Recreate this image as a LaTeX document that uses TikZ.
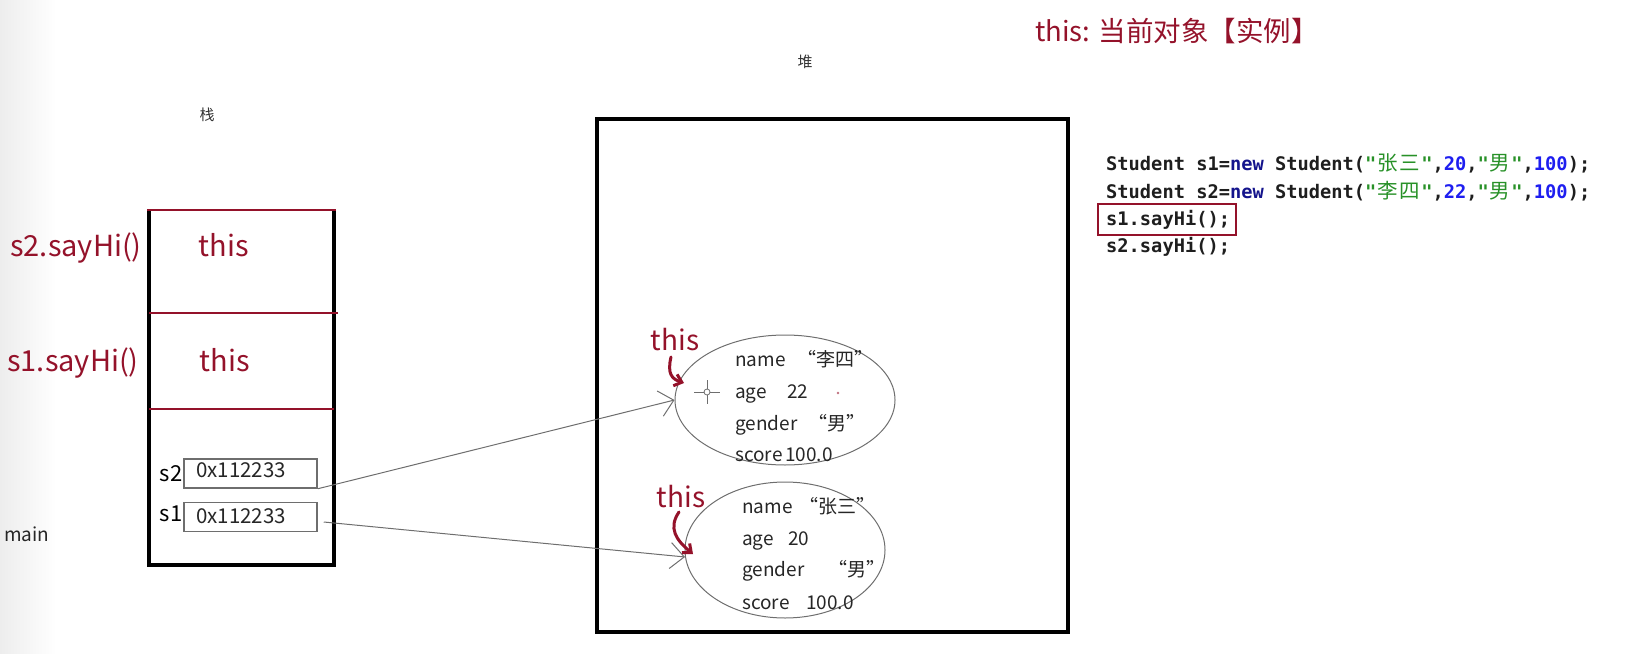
\documentclass[tikz,border=0pt]{standalone}
\usepackage{fontspec}
\setmainfont{Noto Sans CJK SC}
\setmonofont{DejaVu Sans Mono}
\newfontfamily\cjkfont{Noto Sans CJK SC}
\usetikzlibrary{arrows.meta,shapes.geometric}
\definecolor{thisred}{RGB}{148,18,42}
\definecolor{kwblue}{RGB}{20,20,140}
\definecolor{numblue}{RGB}{30,30,240}
\definecolor{strgreen}{RGB}{40,145,40}
\definecolor{codeblack}{RGB}{30,30,30}
\definecolor{linegray}{RGB}{110,110,110}
\newcommand{\zhc}[1]{\makebox[22.5pt]{\cjkfont\mdseries\fontsize{20.5}{24}\selectfont #1}}
\tikzset{
  redbig/.style={text=thisred, font=\fontsize{29}{35}\selectfont, inner sep=0pt},
  heapthis/.style={text=thisred, font=\fontsize{28}{34}\selectfont, inner sep=0pt},
  field/.style={anchor=mid west, inner sep=0pt, font=\fontsize{19}{23}\selectfont, text=black!85},
  addrtext/.style={anchor=mid west, inner sep=0pt, font=\fontsize{20.5}{24}\selectfont, text=black!85},
  code/.style={anchor=mid west, inner sep=0pt, font=\ttfamily\bfseries\fontsize{18.7}{23}\selectfont, text=codeblack},
  small/.style={inner sep=0pt, font=\fontsize{15}{18}\selectfont, text=black!80},
  framered/.style={thisred, line width=2.2pt},
  thick frame/.style={black, line width=4pt},
  addrbox/.style={draw=linegray, line width=1.5pt, minimum width=133pt, minimum height=29pt, inner sep=0pt},
  obj/.style={ellipse, draw=linegray, line width=1pt, inner sep=0pt},
  ref/.style={linegray, line width=1pt, -{Straight Barb[length=14pt,width=26pt,line width=1pt]}},
  hook/.style={thisred, line width=3pt, line cap=round, -{Straight Barb[length=7pt,width=12pt,line width=3pt]}},
}
\begin{document}
\begin{tikzpicture}[x=1pt,y=-1pt]
\useasboundingbox (0,0) rectangle (1627,653);
\shade[left color=black!7, right color=white] (0,0) rectangle (56,653);
% title
\node[text=thisred, font=\fontsize{27.5}{32}\selectfont, anchor=mid west, inner sep=0pt] (title) at (1035,39) {this: 当前对象【实例】};
\node[small] (heaplbl) at (805,62) {堆};
\node[small] (stacklbl) at (207,115) {栈};
% stack
\draw[thick frame] (149,210) -- (149,565) -- (334,565) -- (334,210);
\draw[framered] (147,210) -- (336,210);
\draw[framered] (149,313) -- (338,313);
\draw[framered] (149,409) -- (334,409);
\node[redbig] (s2call) at (76,248) {s2.sayHi()};
\node[redbig] (s1call) at (73,363) {s1.sayHi()};
\node[redbig] (this2) at (224,245) {this};
\node[redbig] (this1) at (225,360) {this};
\node[addrbox] (s2box) at (250.5,473.5) {};
\node[addrbox] (s1box) at (250.5,517) {};
\node[addrtext] (s2val) at (196,475) {0x112233};
\node[addrtext] (s1val) at (196,521) {0x112233};
\node[inner sep=0pt, font=\fontsize{22}{26}\selectfont] (s2lbl) at (171,474) {s2};
\node[inner sep=0pt, font=\fontsize{22}{26}\selectfont] (s1lbl) at (171,514) {s1};
\node[field] (mainlbl) at (4,539) {main};
% heap
\draw[black, line width=4.5pt] (597,119) rectangle (1068,632);
\node[obj, minimum width=220pt, minimum height=130pt] (obj2) at (785,400) {};
\node[obj, minimum width=200pt, minimum height=136pt] (obj1) at (785,550) {};
% fields of s2 object
\node[field] (n2) at (735,364) {name};
\node[field] (n2v) at (797,364) {“李四”};
\node[field] (a2) at (735,396) {age};
\node[field] (a2v) at (787,396) {22};
\node[field] (g2) at (735,428) {gender};
\node[field] (g2v) at (808,428) {“男”};
\node[field] (sc2) at (735,459) {score};
\node[field] (sc2v) at (785,459) {100.0};
% fields of s1 object
\node[field] (n1) at (742,511) {name};
\node[field] (n1v) at (799,511) {“张三”};
\node[field] (a1) at (742,543) {age};
\node[field] (a1v) at (788,543) {20};
\node[field] (g1) at (742,574) {gender};
\node[field] (g1v) at (828,574) {“男”};
\node[field] (sc1) at (742,607) {score};
\node[field] (sc1v) at (806,607) {100.0};
% cursor mark and dot
\draw[linegray, line width=0.8pt] (707,392) circle (3);
\draw[linegray, line width=0.8pt] (694,392) -- (704,392) (710,392) -- (720,392) (707,380) -- (707,389) (707,395) -- (707,404);
\fill[thisred!60] (838,393) circle (1.3);
% references
\coordinate (s1out) at ([xshift=6pt,yshift=-5pt]s1box.east);
\draw[ref] (s2box.south east) -- (obj2.west);
\draw[ref] (s1out) -- (obj1.184);
% heap this labels and hooks
\node[heapthis] (hthis2) at (675,340) {this};
\node[heapthis] (hthis1) at (681,497) {this};
\draw[hook] (671,357) .. controls (667,374) and (672,379) .. (684,383);
\draw[hook] (679,512) .. controls (668,528) and (676,540) .. (693,554);
% code
\node[code] (c1) at (1106,168) {Student s1=\textcolor{kwblue}{new} Student(\textcolor{strgreen}{"\zhc{张}\zhc{三}"},\textcolor{numblue}{20},\textcolor{strgreen}{"\zhc{男}"},\textcolor{numblue}{100});};
\node[code] (c2) at (1106,196) {Student s2=\textcolor{kwblue}{new} Student(\textcolor{strgreen}{"\zhc{李}\zhc{四}"},\textcolor{numblue}{22},\textcolor{strgreen}{"\zhc{男}"},\textcolor{numblue}{100});};
\node[code] (c3) at (1106,223) {s1.sayHi();};
\node[code] (c4) at (1106,250) {s2.sayHi();};
\draw[framered] (1098,204) rectangle (1236,235);
\end{tikzpicture}
\end{document}
